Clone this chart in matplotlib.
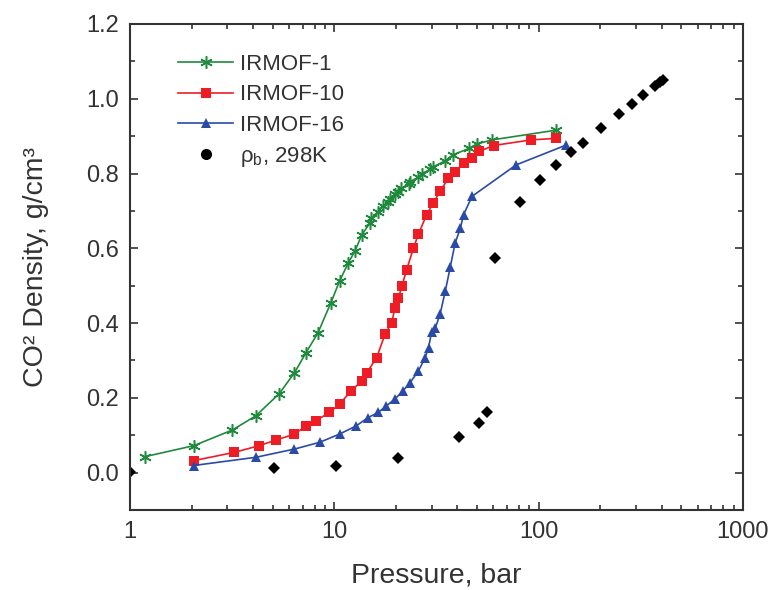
"""
CO2 density in IRMOF pores vs pressure (log scale)
"""

import matplotlib.pyplot as plt
from matplotlib.lines import Line2D
from matplotlib.ticker import MultipleLocator, LogLocator, FixedFormatter, FixedLocator

plt.rcParams["font.family"] = ["Liberation Sans", "DejaVu Sans"]
plt.rcParams["mathtext.fontset"] = "custom"
plt.rcParams["mathtext.rm"] = "Liberation Sans"
plt.rcParams["mathtext.it"] = "Liberation Sans:italic"

# IRMOF-1
p_irmof1 = [1.19, 2.05, 3.17, 4.13, 5.37, 6.38, 7.27, 8.32, 9.61, 10.6, 11.7, 12.6,
            13.6, 14.9, 15.2, 16.4, 17.4, 18.3, 18.8, 19.9, 20.6, 21.3, 23.1, 23.4,
            25.8, 26.8, 29.5, 30.5, 34.9, 38.1, 45.5, 49.8, 59.2, 121.5]
rho_irmof1 = [0.043, 0.072, 0.114, 0.152, 0.211, 0.267, 0.321, 0.374, 0.454, 0.512, 0.561, 0.592,
              0.635, 0.667, 0.680, 0.698, 0.714, 0.724, 0.732, 0.745, 0.750, 0.760, 0.772, 0.778,
              0.790, 0.800, 0.811, 0.818, 0.834, 0.850, 0.867, 0.879, 0.890, 0.916]

# IRMOF-10
p_irmof10 = [2.05, 3.23, 4.28, 5.18, 6.38, 7.27, 8.14, 9.46, 10.6, 12.1, 13.6, 14.4, 16.1,
             17.7, 19.1, 19.8, 20.6, 21.4, 22.6, 24.4, 25.8, 28.3, 30.5, 32.9, 36.2, 39.0,
             42.9, 47.2, 51.0, 60.3, 91.8, 121.5]
rho_irmof10 = [0.032, 0.054, 0.072, 0.087, 0.103, 0.125, 0.139, 0.161, 0.183, 0.219, 0.245, 0.267, 0.307,
               0.370, 0.401, 0.441, 0.467, 0.499, 0.543, 0.601, 0.638, 0.690, 0.721, 0.752, 0.788, 0.805,
               0.828, 0.841, 0.859, 0.875, 0.890, 0.894]

# IRMOF-16
p_irmof16 = [2.05, 4.13, 6.38, 8.47, 10.6, 12.8, 14.6, 16.4, 18.0, 19.8, 21.7, 23.5, 25.8,
             27.8, 28.9, 29.9, 31.2, 32.9, 34.9, 36.9, 39.0, 41.4, 42.9, 47.2, 77.5, 136]
rho_irmof16 = [0.019, 0.041, 0.063, 0.081, 0.103, 0.125, 0.147, 0.161, 0.179, 0.197, 0.219, 0.241, 0.272,
               0.307, 0.334, 0.375, 0.387, 0.423, 0.485, 0.549, 0.614, 0.654, 0.690, 0.739, 0.823, 0.876]

# bulk CO2 density at 298 K
p_bulk = [1.0, 5.04, 10.2, 20.4, 40.9, 51.0, 56.1, 61.4, 81.0, 101.8, 121.6, 144, 164,
          203, 246, 286, 325, 371, 393, 408]
rho_bulk = [0.002, 0.0125, 0.019, 0.038, 0.096, 0.134, 0.161, 0.574, 0.723, 0.783, 0.823, 0.857, 0.881,
            0.921, 0.960, 0.985, 1.011, 1.035, 1.044, 1.050]

labels = ["IRMOF-1", "IRMOF-10", "IRMOF-16", "ρ$_\\mathrm{b}$, 298K"]
x_ticks = [1, 10, 100, 1000]
x_ticklabels = ["1", "10", "100", "1000"]

GREEN, RED, BLUE, INK = "#1e8a3c", "#ee1c25", "#2a4aa8", "#333333"

fig = plt.figure(figsize=(7.71, 5.90), dpi=100)
ax = fig.add_axes([130 / 771, 1 - 510 / 590, (743 - 130) / 771, (510 - 24) / 590])

ax.plot(p_irmof1, rho_irmof1, color=GREEN, marker=(6, 2, 0), ms=9, mew=1.1, lw=1.2)
ax.plot(p_irmof10, rho_irmof10, color=RED, marker="s", ms=6.5, mew=0, lw=1.2)
ax.plot(p_irmof16, rho_irmof16, color=BLUE, marker="^", ms=7.5, mew=0, lw=1.2)
ax.plot(p_bulk, rho_bulk, ls="none", color="black", marker="D", ms=6.5, mew=0)

ax.set_xscale("log")
ax.set_xlim(1, 1000)
ax.set_ylim(-0.1, 1.2)
ax.xaxis.set_major_locator(FixedLocator(x_ticks))
ax.xaxis.set_major_formatter(FixedFormatter(x_ticklabels))
ax.xaxis.set_minor_locator(LogLocator(base=10, subs=range(2, 10)))
ax.xaxis.set_minor_formatter(FixedFormatter([]))
ax.yaxis.set_major_locator(MultipleLocator(0.2))
ax.yaxis.set_minor_locator(MultipleLocator(0.1))
ax.yaxis.set_major_formatter(plt.FuncFormatter(lambda v, _: f"{v:.1f}"))

ax.tick_params(which="both", direction="in", top=True, right=True, width=1.2, labelsize=17,
               colors=INK, labelcolor=INK)
ax.tick_params(which="major", length=6, pad=8)
ax.tick_params(which="minor", length=3.5)
for s in ax.spines.values():
    s.set_linewidth(1.5)
    s.set_color(INK)

ax.set_xlabel("Pressure, bar", fontsize=20.5, color=INK, labelpad=14)
ax.set_ylabel("CO² Density, g/cm³", fontsize=20.5, color=INK, labelpad=27)

handles = [
    Line2D([], [], color=GREEN, marker=(6, 2, 0), ms=9, mew=1.1, lw=1.2),
    Line2D([], [], color=RED, marker="s", ms=6.5, mew=0, lw=1.2),
    Line2D([], [], color=BLUE, marker="^", ms=7.5, mew=0, lw=1.2),
    Line2D([], [], ls="none", color="black", marker="o", ms=8, mew=0),
]
leg = ax.legend(handles, labels, loc="upper left", bbox_to_anchor=(0.078, 0.938), frameon=False,
                fontsize=16, handlelength=2.5, handletextpad=0.3, labelspacing=0.42,
                borderpad=0, borderaxespad=0)
for t in leg.get_texts():
    t.set_color(INK)

fig.savefig("out.png", dpi=100)
plt.close(fig)
